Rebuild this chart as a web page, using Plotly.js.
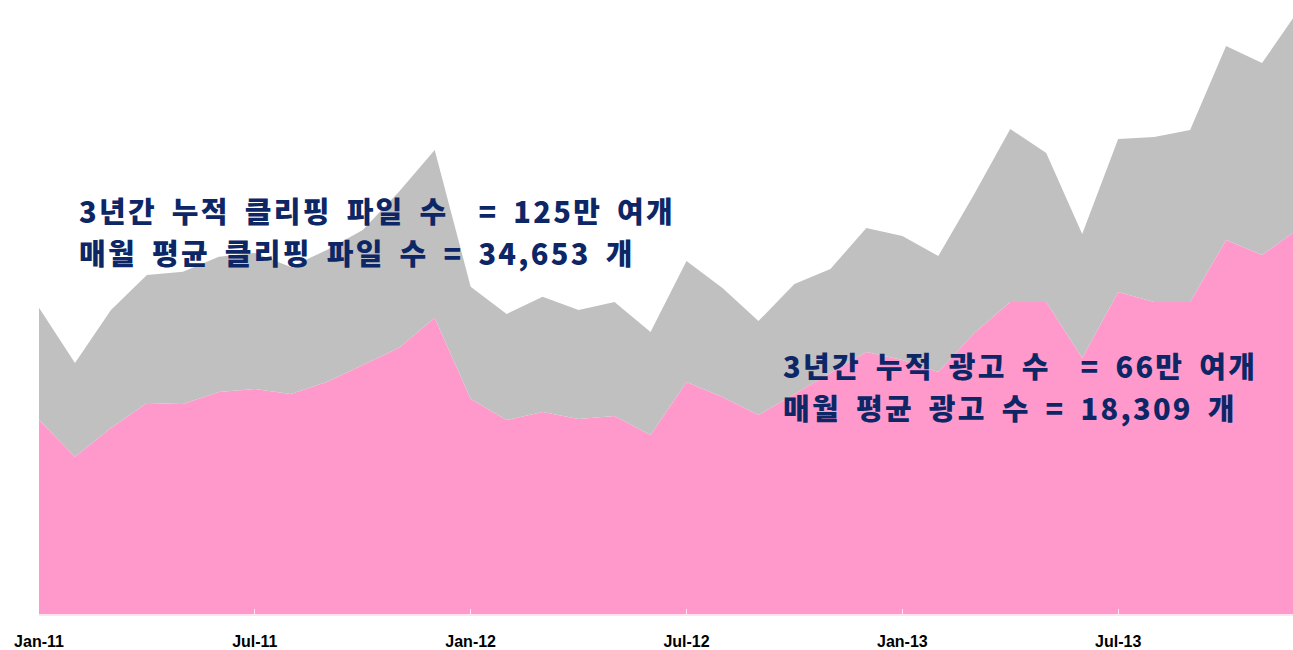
<!DOCTYPE html>
<html>
<head>
<meta charset="utf-8">
<script src="https://cdn.plot.ly/plotly-3.0.1.min.js"></script>
<style>
  html, body { margin: 0; padding: 0; background: #ffffff; }
  #chart { width: 1293px; height: 650px; }
  #chart text.annotation-text { letter-spacing: 2.3px; word-spacing: 6px; }
</style>
</head>
<body>
<div id="chart"></div>
<script>
// Months (category axis)
const months = [
  "Jan-11","Feb-11","Mar-11","Apr-11","May-11","Jun-11","Jul-11","Aug-11","Sep-11","Oct-11","Nov-11","Dec-11",
  "Jan-12","Feb-12","Mar-12","Apr-12","May-12","Jun-12","Jul-12","Aug-12","Sep-12","Oct-12","Nov-12","Dec-12",
  "Jan-13","Feb-13","Mar-13","Apr-13","May-13","Jun-13","Jul-13","Aug-13","Sep-13","Oct-13","Nov-13","Dec-13"
];

// Monthly clipping files (bottom, pink)
const clipFiles = [
  26770, 21710, 25670, 29120, 28980, 30640, 31050, 30360, 32020, 34360, 36710, 40850,
  29670, 26770, 27880, 26910, 27320, 24700, 32020, 29950, 27460, 30360, 33260, 36160,
  35050, 33400, 38780, 43060, 43060, 35330, 44440, 43060, 43060, 51610, 49540, 53130
];

// Monthly ads (stacked on top, gray)
const ads = [
  15500, 12930, 16280, 17660, 18260, 18670, 18770, 17530, 18220, 18630, 21530, 23180,
  15500, 14630, 15910, 15040, 15730, 14210, 16700, 15040, 12970, 15180, 14350, 17110,
  17110, 16010, 19180, 23870, 20560, 17110, 21110, 22770, 23740, 26770, 26500, 30080
];

// Tick labels shown on the x axis
const tickMonths = ["Jan-11","Jul-11","Jan-12","Jul-12","Jan-13","Jul-13"];

// Annotation texts
const clipLine1 = "3년간 누적 클리핑 파일 수\u00A0 = 125만 여개";
const clipLine2 = "매월 평균 클리핑 파일 수 = 34,653 개";
const adLine1 = "3년간 누적 광고 수\u00A0 = 66만 여개";
const adLine2 = "매월 평균 광고 수 = 18,309 개";

const traces = [
  {
    x: months, y: clipFiles, type: "scatter", mode: "none",
    stackgroup: "one", fillcolor: "#FF99CC", name: "클리핑 파일 수",
    hoverinfo: "skip"
  },
  {
    x: months, y: ads, type: "scatter", mode: "none",
    stackgroup: "one", fillcolor: "#C0C0C0", name: "광고 수",
    hoverinfo: "skip"
  }
];

const textFont = { family: "Noto Sans CJK KR, Noto Sans, sans-serif", size: 29, color: "#0D2766", weight: 900 };

function ann(text, x, y) {
  return {
    text: text, xref: "paper", yref: "paper", x: x, y: y,
    xanchor: "left", yanchor: "middle", align: "left", showarrow: false,
    font: textFont, borderpad: 0
  };
}

const layout = {
  width: 1293, height: 650,
  margin: { l: 39, r: 0, t: 0, b: 36, pad: 0 },
  paper_bgcolor: "#ffffff", plot_bgcolor: "#ffffff",
  showlegend: false,
  xaxis: {
    type: "category",
    range: [0, 34.86],
    tickmode: "array",
    tickvals: tickMonths,
    ticktext: tickMonths,
    ticks: "inside", ticklen: 5, tickwidth: 1, tickcolor: "#FFE3EF",
    showline: true, linecolor: "#FFE3EF", linewidth: 1.5,
    showgrid: false, zeroline: false,
    tickfont: { family: "Liberation Sans, Arial, sans-serif", size: 16, color: "#000000", weight: 700 },
    ticklabelstandoff: 12,
    layer: "above traces"
  },
  yaxis: {
    range: [0, 84732],
    visible: false, showgrid: false, zeroline: false
  },
  annotations: [
    ann(clipLine1, 0.0311, 0.6572),
    ann(clipLine2, 0.0311, 0.5896),
    ann(adLine1, 0.5923, 0.4055),
    ann(adLine2, 0.5923, 0.3371)
  ]
};

Plotly.newPlot("chart", traces, layout, { displayModeBar: false, staticPlot: true });
</script>
</body>
</html>
